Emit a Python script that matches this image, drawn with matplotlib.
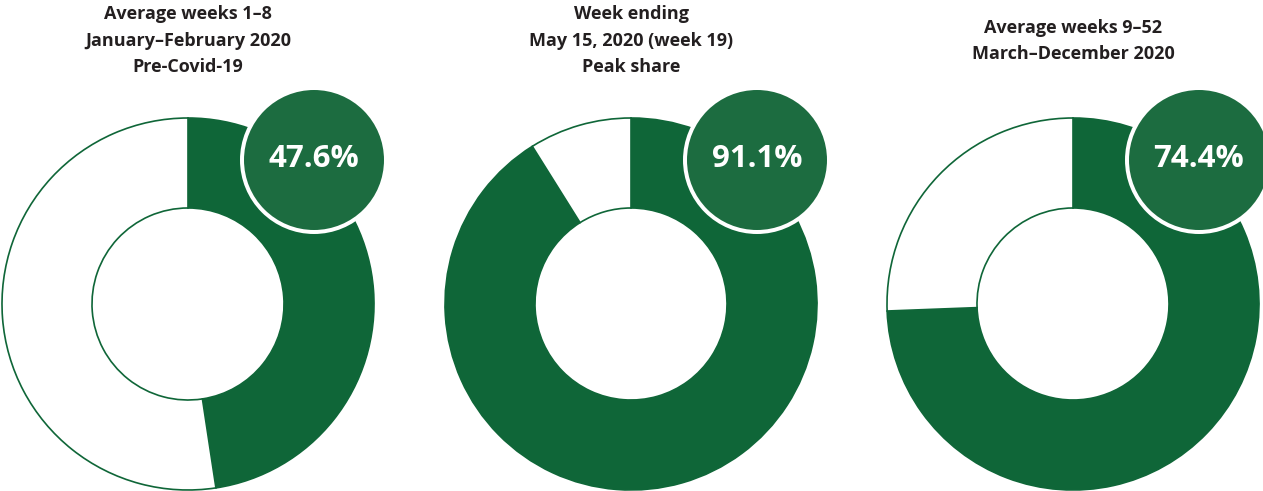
import matplotlib
matplotlib.use("Agg")
import matplotlib.pyplot as plt
from matplotlib.patches import Circle

titles = [
    "Average weeks 1\u20138\nJanuary\u2013February 2020\nPre-Covid-19",
    "Week ending\nMay 15, 2020 (week 19)\nPeak share",
    "Average weeks 9\u201352\nMarch\u2013December 2020",
]
shares = [47.6, 91.1, 74.4]
labels = ["47.6%", "91.1%", "74.4%"]

GREEN = "#0f6638"
BADGE = "#1c6c40"
TEXT = "#231f20"

W, H = 1263, 491
fig = plt.figure(figsize=(W / 100, H / 100), dpi=100)
ax = fig.add_axes([0, 0, 1, 1])
ax.set_xlim(0, W)
ax.set_ylim(0, H)
ax.set_aspect("equal")
ax.axis("off")

centers_x = [188, 631, 1073]
cy = H - 304
r_out = 186
r_in = 96
title_y = [H - 14, H - 14, H - 28]

for i, (cx, s) in enumerate(zip(centers_x, shares)):
    ax.pie([s, 100 - s], colors=[GREEN, "white"], startangle=90, counterclock=False,
           center=(cx, cy), radius=r_out,
           wedgeprops=dict(width=r_out - r_in, edgecolor=GREEN, linewidth=1.2))
    bx, by = cx + 126, H - 160
    ax.add_patch(Circle((bx, by), 74, facecolor="white", edgecolor="none", zorder=5))
    ax.add_patch(Circle((bx, by), 70, facecolor=BADGE, edgecolor="none", zorder=6))
    ax.text(bx, by + 1, labels[i], ha="center", va="center", color="white",
            fontsize=22.5, fontweight="bold", family="Open Sans", zorder=7)
    n = titles[i].count("\n") + 1
    ax.text(cx, title_y[i] - (n - 1) * 13.3, titles[i], ha="center", va="center",
            color=TEXT, fontsize=13, fontweight="bold", family="Open Sans",
            linespacing=1.58)

ax.set_xlim(0, W)
ax.set_ylim(0, H)
fig.savefig("out.png", dpi=100)
